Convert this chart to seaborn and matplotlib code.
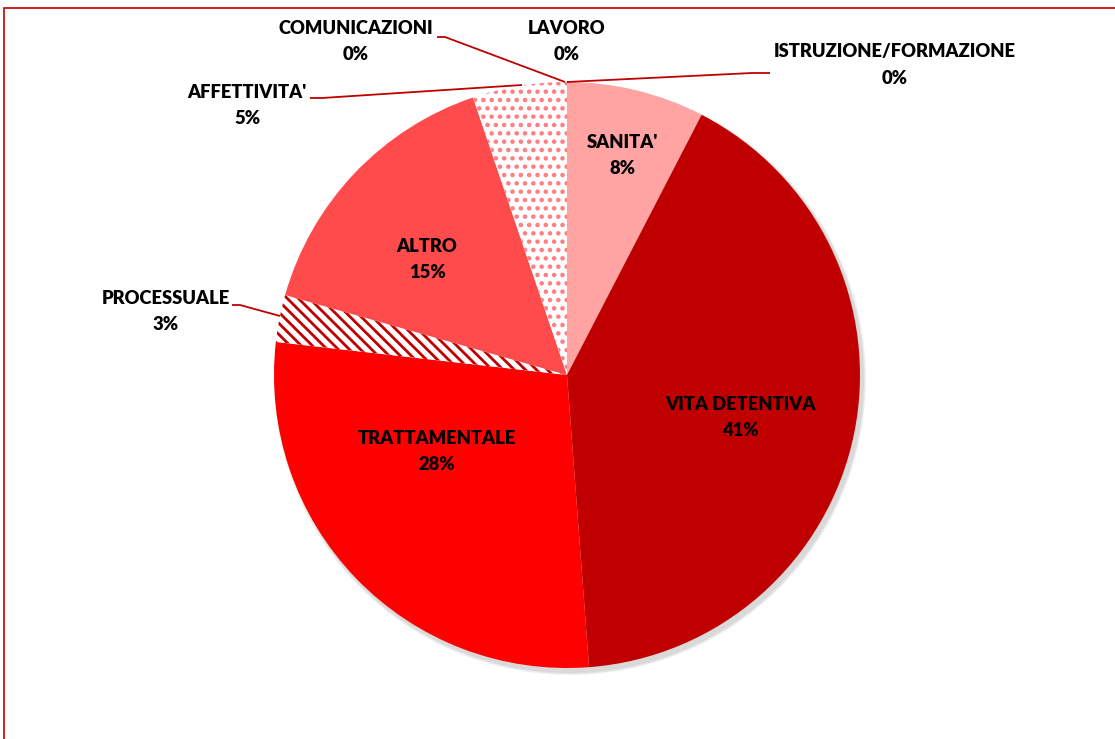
import matplotlib
matplotlib.use("Agg")
import matplotlib.pyplot as plt
import seaborn as sns
from matplotlib.patches import Rectangle, Circle

sns.set_theme(style="white")
plt.rcParams['font.family'] = ['Lato', 'DejaVu Sans']
plt.rcParams['hatch.linewidth'] = 2.0

# ---- data ----
categories = ["SANITA'", "VITA DETENTIVA", "TRATTAMENTALE", "PROCESSUALE", "ALTRO",
              "AFFETTIVITA'", "COMUNICAZIONI", "LAVORO", "ISTRUZIONE/FORMAZIONE"]
values = [7.6, 41.2, 28.0, 2.6, 15.4, 5.2, 0.0, 0.0, 0.0]

# ---- styles / layout ----
face_colors = ["#FFA3A3", "#C00000", "#FF0000", "#FFFFFF", "#FF4B4B",
               "#FFFFFF", "#FFFFFF", "#FFFFFF", "#FFFFFF"]
hatches = [None, None, None, "\\\\\\", None, "..", None, None, None]
hatch_colors = [None, None, None, "#C00000", None, "#FF7C80", None, None, None]
# label block centers in pixel coords (x, y from top)
label_pos = [(622, 155), (740, 418), (437, 451), (166, 311), (427, 260),
             (247, 106), (356, 41), (567, 41), (895, 65)]
leaders = {
    6: [(437, 37), (445, 37), (565, 82)],
    8: [(770, 73), (752, 73), (567, 82)],
    5: [(310, 98), (322, 98), (522, 85)],
    3: [(232, 305), (240, 305), (280, 316)],
}

W, H = 1115, 739
fig = plt.figure(figsize=(W / 100, H / 100), dpi=100)
ax = fig.add_axes([0, 0, 1, 1])
ax.set_xlim(0, W)
ax.set_ylim(0, H)
ax.set_aspect('equal')
ax.axis('off')

cx, cy, R = 567, H - 375, 293

# soft shadow
for i, a in enumerate([0.05, 0.05, 0.05]):
    ax.add_patch(Circle((cx + 3, cy - 4), R + 1 + i, color="#000000", alpha=a, lw=0, zorder=1))

wedges, _ = ax.pie(values, startangle=90, counterclock=False, center=(cx, cy),
                   radius=R, colors=face_colors, normalize=True,
                   wedgeprops=dict(linewidth=0, zorder=2))
ax.set_xlim(0, W)
ax.set_ylim(0, H)
for w, h, hc in zip(wedges, hatches, hatch_colors):
    w.set_zorder(2)
    if h:
        w.set_hatch(h)
        w.set_edgecolor(hc)
        w.set_linewidth(0)

total = sum(values)
for i, (cat, v) in enumerate(zip(categories, values)):
    pct = f"{round(v / total * 100):.0f}%"
    x, y = label_pos[i]
    ax.text(x, H - y + 13, cat, ha='center', va='center', fontsize=13.2,
            fontweight='heavy', color='black', zorder=5)
    ax.text(x, H - y - 13, pct, ha='center', va='center', fontsize=13.2,
            fontweight='heavy', color='black', zorder=5)

for idx, pts in leaders.items():
    xs = [p[0] for p in pts]
    ys = [H - p[1] for p in pts]
    ax.plot(xs, ys, color="#C00000", lw=1.3, zorder=4, solid_capstyle='butt')

# outer red frame (right/bottom edges outside canvas)
fig.patches.append(Rectangle((4 / W, -0.05), 1.2, 1 - 8 / H + 0.05,
                             transform=fig.transFigure, fill=False,
                             edgecolor="#C00000", lw=1.2))

fig.savefig("out.png", dpi=100, facecolor="white")
